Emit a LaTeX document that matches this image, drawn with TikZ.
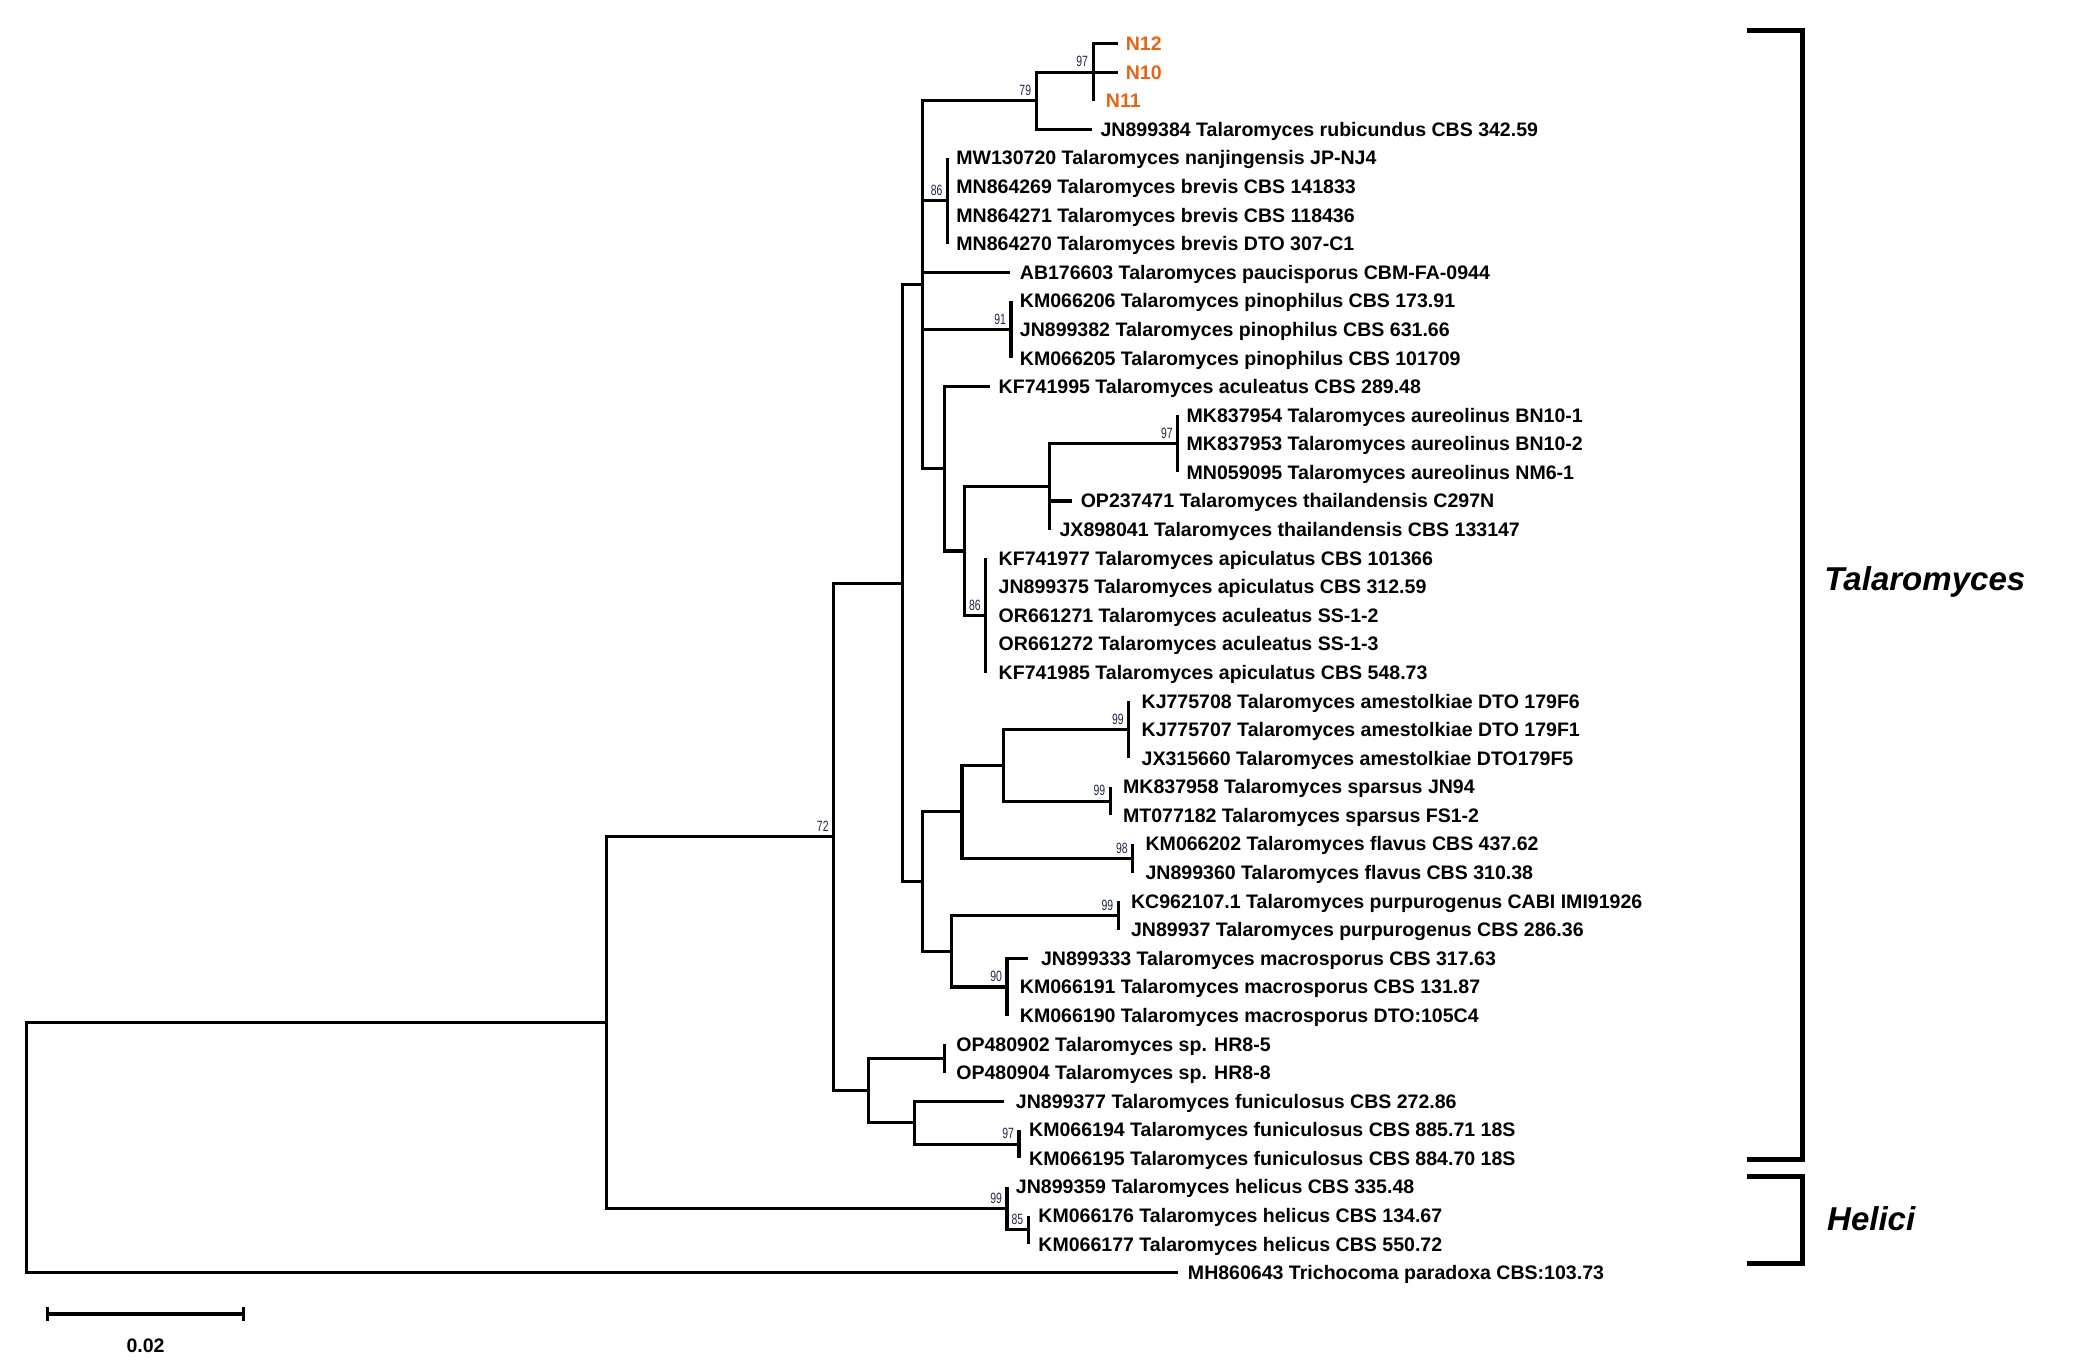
\documentclass[tikz,border=0pt]{standalone}
\usepackage{fontspec}
\setmainfont{Liberation Sans}
\usepackage{graphicx}
\definecolor{nor}{RGB}{228,101,22}
\definecolor{bsc}{RGB}{30,40,70}
\newcommand{\ry}[1]{33+21.6*(#1)}
\newcommand{\bsn}[1]{\scalebox{0.7}[1]{#1}}
\newcommand{\lf}[6][leaf]{\coordinate (#2) at (#4,{\ry{#3}}); \node[#1] (t#2) at (#5,{\ry{#3}}) {#6};}
\newcommand{\inn}[3]{\coordinate (#1) at (#2,{\ry{#3}});}
\begin{document}
\begin{tikzpicture}[x=0.01cm,y=-0.01cm,
 br/.style={line width=0.68pt},
 leaf/.style={anchor=base west, inner sep=0pt, yshift=-1.49pt, font=\fontsize{4.2pt}{5pt}\selectfont\bfseries},
 nlab/.style={leaf, text=nor},
 bs/.style={anchor=south east, inner sep=0.9pt, font=\fontsize{3.2pt}{3.6pt}\selectfont, text=bsc},
 bracket/.style={line width=1.05pt},
 clade/.style={anchor=west, inner sep=0pt, font=\fontsize{7.1pt}{8pt}\selectfont\bfseries\itshape}]
\fill[white] (0,0) rectangle (1568,1031);
\useasboundingbox (0,0) rectangle (1568,1031);

% internal nodes
\inn{r}{20}{38.625}
\inn{nA}{458}{34.25}
\inn{n72}{630}{27.75}
\inn{nHel}{761}{40.75}
\inn{n85}{777}{41.5}
\inn{nBig}{682}{18.875}
\inn{nLow}{656}{36.625}
\inn{nOP}{714}{35.5}
\inn{nF}{691}{37.75}
\inn{n97c}{770}{38.5}
\inn{nTop}{697}{8.4375}
\inn{nBot}{697}{29.3125}
\inn{n79}{783}{2}
\inn{n97}{826}{1}
\inn{n86b}{716}{5.5}
\inn{n91}{764}{10}
\inn{n714}{714}{14.875}
\inn{n729}{729}{17.75}
\inn{n793}{793}{15.5}
\inn{n97b}{890}{14}
\inn{n86a}{745}{20}
\inn{nC}{727}{26.875}
\inn{nD}{719}{31.75}
\inn{nE}{758}{25.25}
\inn{n99a}{853}{24}
\inn{n99b}{839}{26.5}
\inn{n98}{856}{28.5}
\inn{n99c}{845}{30.5}
\inn{n90}{761}{33}

% leaves
\lf[nlab]{L0}{0}{845}{850}{N12}
\lf[nlab]{L1}{1}{845}{850}{N10}
\lf[nlab]{L2}{2}{826}{835}{N11}
\lf{L3}{3}{825}{831}{JN899384 Talaromyces rubicundus CBS 342.59}
\lf{L4}{4}{716}{722}{MW130720 Talaromyces nanjingensis JP-NJ4}
\lf{L5}{5}{716}{722}{MN864269 Talaromyces brevis CBS 141833}
\lf{L6}{6}{716}{722}{MN864271 Talaromyces brevis CBS 118436}
\lf{L7}{7}{716}{722}{MN864270 Talaromyces brevis DTO 307-C1}
\lf{L8}{8}{763}{770}{AB176603 Talaromyces paucisporus CBM-FA-0944}
\lf{L9}{9}{764}{770}{KM066206 Talaromyces pinophilus CBS 173.91}
\lf{L10}{10}{764}{770}{JN899382 Talaromyces pinophilus CBS 631.66}
\lf{L11}{11}{764}{770}{KM066205 Talaromyces pinophilus CBS 101709}
\lf{L12}{12}{748}{754}{KF741995 Talaromyces aculeatus CBS 289.48}
\lf{L13}{13}{890}{896}{MK837954 Talaromyces aureolinus BN10-1}
\lf{L14}{14}{890}{896}{MK837953 Talaromyces aureolinus BN10-2}
\lf{L15}{15}{890}{896}{MN059095 Talaromyces aureolinus NM6-1}
\lf{L16}{16}{810}{816}{OP237471 Talaromyces thailandensis C297N}
\lf{L17}{17}{793}{800}{JX898041 Talaromyces thailandensis CBS 133147}
\lf{L18}{18}{745}{754}{KF741977 Talaromyces apiculatus CBS 101366}
\lf{L19}{19}{745}{754}{JN899375 Talaromyces apiculatus CBS 312.59}
\lf{L20}{20}{745}{754}{OR661271 Talaromyces aculeatus SS-1-2}
\lf{L21}{21}{745}{754}{OR661272 Talaromyces aculeatus SS-1-3}
\lf{L22}{22}{745}{754}{KF741985 Talaromyces apiculatus CBS 548.73}
\lf{L23}{23}{853}{862}{KJ775708 Talaromyces amestolkiae DTO 179F6}
\lf{L24}{24}{853}{862}{KJ775707 Talaromyces amestolkiae DTO 179F1}
\lf{L25}{25}{853}{862}{JX315660 Talaromyces amestolkiae DTO179F5}
\lf{L26}{26}{839}{848}{MK837958 Talaromyces sparsus JN94}
\lf{L27}{27}{839}{848}{MT077182 Talaromyces sparsus FS1-2}
\lf{L28}{28}{856}{865}{KM066202 Talaromyces flavus CBS 437.62}
\lf{L29}{29}{856}{865}{JN899360 Talaromyces flavus CBS 310.38}
\lf{L30}{30}{845}{854}{KC962107.1 Talaromyces purpurogenus CABI IMI91926}
\lf{L31}{31}{845}{854}{JN89937 Talaromyces purpurogenus CBS 286.36}
\lf{L32}{32}{777}{786}{JN899333 Talaromyces macrosporus CBS 317.63}
\lf{L33}{33}{761}{770}{KM066191 Talaromyces macrosporus CBS 131.87}
\lf{L34}{34}{761}{770}{KM066190 Talaromyces macrosporus DTO:105C4}
\lf{L35}{35}{714}{722}{OP480902 Talaromyces sp. HR8-5}
\lf{L36}{36}{714}{722}{OP480904 Talaromyces sp. HR8-8}
\lf{L37}{37}{759}{767}{JN899377 Talaromyces funiculosus CBS 272.86}
\lf{L38}{38}{770}{777}{KM066194 Talaromyces funiculosus CBS 885.71 18S}
\lf{L39}{39}{770}{777}{KM066195 Talaromyces funiculosus CBS 884.70 18S}
\lf{L40}{40}{761}{767}{JN899359 Talaromyces helicus CBS 335.48}
\lf{L41}{41}{777}{784}{KM066176 Talaromyces helicus CBS 134.67}
\lf{L42}{42}{777}{784}{KM066177 Talaromyces helicus CBS 550.72}
\lf{L43}{43}{890}{897}{MH860643 Trichocoma paradoxa CBS:103.73}

% branches
\foreach \p/\c in {r/nA, r/L43, nA/n72, nA/nHel, nHel/L40, nHel/n85, n85/L41, n85/L42,
  n72/nBig, n72/nLow, nLow/nOP, nLow/nF, nOP/L35, nOP/L36, nF/L37, nF/n97c, n97c/L38, n97c/L39,
  nBig/nTop, nBig/nBot, nTop/n79, nTop/n86b, nTop/L8, nTop/n91, nTop/n714,
  n79/n97, n79/L3, n97/L0, n97/L1, n97/L2, n86b/L4, n86b/L5, n86b/L6, n86b/L7,
  n91/L9, n91/L10, n91/L11, n714/L12, n714/n729, n729/n793, n729/n86a,
  n793/n97b, n793/L16, n793/L17, n97b/L13, n97b/L14, n97b/L15,
  n86a/L18, n86a/L19, n86a/L20, n86a/L21, n86a/L22,
  nBot/nC, nBot/nD, nC/nE, nC/n98, nE/n99a, nE/n99b, n99a/L23, n99a/L24, n99a/L25,
  n99b/L26, n99b/L27, n98/L28, n98/L29, nD/n99c, nD/n90, n99c/L30, n99c/L31,
  n90/L32, n90/L33, n90/L34}
  \draw[br] (\p) |- (\c);

% bootstrap values
\node[bs] (b72) at (n72) {\bsn{72}};
\node[bs] (b79) at (n79) {\bsn{79}};
\node[bs] (b97) at (n97) {\bsn{97}};
\node[bs] (b86b) at (n86b) {\bsn{86}};
\node[bs] (b91) at (n91) {\bsn{91}};
\node[bs] (b97b) at (n97b) {\bsn{97}};
\node[bs] (b86a) at (n86a) {\bsn{86}};
\node[bs] (b99a) at (n99a) {\bsn{99}};
\node[bs] (b99b) at (n99b) {\bsn{99}};
\node[bs] (b98) at (n98) {\bsn{98}};
\node[bs] (b99c) at (n99c) {\bsn{99}};
\node[bs] (b90) at (n90) {\bsn{90}};
\node[bs] (b97c) at (n97c) {\bsn{97}};
\node[bs] (b99h) at (nHel) {\bsn{99}};
\node[bs] (b85) at (n85) {\bsn{85}};

% brackets and clade names
\coordinate (bT1) at (1320,23); \coordinate (bT2) at (1362,23);
\coordinate (bT3) at (1362,876); \coordinate (bT4) at (1320,876);
\draw[bracket] (bT1) -- (bT2) -- (bT3) -- (bT4);
\coordinate (bH1) at (1320,889); \coordinate (bH2) at (1362,889);
\coordinate (bH3) at (1362,955); \coordinate (bH4) at (1320,955);
\draw[bracket] (bH1) -- (bH2) -- (bH3) -- (bH4);
\node[clade] (cT) at (1378,440) {Talaromyces};
\node[clade] (cH) at (1380,921) {Helici};

% scale bar
\coordinate (sb1) at (36,993); \coordinate (sb2) at (184,993);
\draw[br] (sb1) -- (sb2);
\draw[br] (sb1) ++(0,-5) -- ++(0,10);
\draw[br] (sb2) ++(0,-5) -- ++(0,10);
\node[anchor=center, inner sep=0pt, font=\fontsize{4.2pt}{5pt}\selectfont\bfseries] (sbl) at (110,1017) {0.02};
\end{tikzpicture}
\end{document}
